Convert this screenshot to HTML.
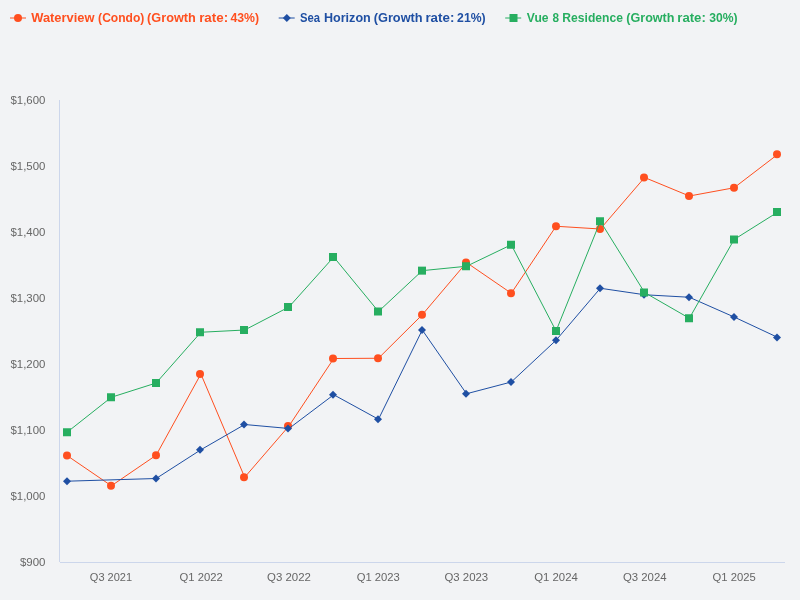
<!DOCTYPE html>
<html><head><meta charset="utf-8"><title>Chart</title>
<style>
html,body{margin:0;padding:0;background:#f2f3f5;}
body{width:800px;height:600px;overflow:hidden;font-family:"Liberation Sans",sans-serif;}
svg{display:block;will-change:transform;}
svg text{font-family:"Liberation Sans",sans-serif;}
</style></head><body>
<svg width="800" height="600" viewBox="0 0 800 600">
<rect x="0" y="0" width="800" height="600" fill="#f2f3f5"/>
<path d="M 59.5 100 L 59.5 562" stroke="#ccd6eb" stroke-width="1" fill="none"/>
<path d="M 60 562.5 L 785 562.5" stroke="#ccd6eb" stroke-width="1" fill="none"/>
<g><path d="M 67.1 455.6 L 111.37 485.8 L 156.13 455.25 L 200.89 374.0 L 244.68 477.25 L 288.95 426 L 333.71 358.5 L 378.47 358.25 L 422.26 314.75 L 466.53 262.55 L 511.29 293.25 L 556.05 226.25 L 600.32 229.0 L 644.59 177.5 L 689.35 196.0 L 734.11 187.75 L 777.9 154.25" stroke="#ff4f1f" stroke-width="1" fill="none" stroke-linejoin="round" stroke-linecap="round"/><circle cx="67" cy="455.6" r="4" fill="#ff4f1f"/><circle cx="111" cy="485.8" r="4" fill="#ff4f1f"/><circle cx="156" cy="455.25" r="4" fill="#ff4f1f"/><circle cx="200" cy="374.0" r="4" fill="#ff4f1f"/><circle cx="244" cy="477.25" r="4" fill="#ff4f1f"/><circle cx="288" cy="426" r="4" fill="#ff4f1f"/><circle cx="333" cy="358.5" r="4" fill="#ff4f1f"/><circle cx="378" cy="358.25" r="4" fill="#ff4f1f"/><circle cx="422" cy="314.75" r="4" fill="#ff4f1f"/><circle cx="466" cy="262.55" r="4" fill="#ff4f1f"/><circle cx="511" cy="293.25" r="4" fill="#ff4f1f"/><circle cx="556" cy="226.25" r="4" fill="#ff4f1f"/><circle cx="600" cy="229.0" r="4" fill="#ff4f1f"/><circle cx="644" cy="177.5" r="4" fill="#ff4f1f"/><circle cx="689" cy="196.0" r="4" fill="#ff4f1f"/><circle cx="734" cy="187.75" r="4" fill="#ff4f1f"/><circle cx="777" cy="154.25" r="4" fill="#ff4f1f"/></g>
<g><path d="M 67.1 481.2 L 156.13 478.5 L 200.89 449.75 L 244.68 424.5 L 288.95 428.5 L 333.71 394.75 L 378.47 419.25 L 422.26 330.0 L 466.53 393.75 L 511.29 382.0 L 556.05 340.25 L 600.32 288.25 L 644.59 294.75 L 689.35 297.25 L 734.11 317.0 L 777.9 337.5" stroke="#1f4fa3" stroke-width="1" fill="none" stroke-linejoin="round" stroke-linecap="round"/><path d="M 67 477.2 L 71 481.2 L 67 485.2 L 63 481.2 Z" fill="#1f4fa3"/><path d="M 156 474.5 L 160 478.5 L 156 482.5 L 152 478.5 Z" fill="#1f4fa3"/><path d="M 200 445.75 L 204 449.75 L 200 453.75 L 196 449.75 Z" fill="#1f4fa3"/><path d="M 244 420.5 L 248 424.5 L 244 428.5 L 240 424.5 Z" fill="#1f4fa3"/><path d="M 288 424.5 L 292 428.5 L 288 432.5 L 284 428.5 Z" fill="#1f4fa3"/><path d="M 333 390.75 L 337 394.75 L 333 398.75 L 329 394.75 Z" fill="#1f4fa3"/><path d="M 378 415.25 L 382 419.25 L 378 423.25 L 374 419.25 Z" fill="#1f4fa3"/><path d="M 422 326.0 L 426 330.0 L 422 334.0 L 418 330.0 Z" fill="#1f4fa3"/><path d="M 466 389.75 L 470 393.75 L 466 397.75 L 462 393.75 Z" fill="#1f4fa3"/><path d="M 511 378.0 L 515 382.0 L 511 386.0 L 507 382.0 Z" fill="#1f4fa3"/><path d="M 556 336.25 L 560 340.25 L 556 344.25 L 552 340.25 Z" fill="#1f4fa3"/><path d="M 600 284.25 L 604 288.25 L 600 292.25 L 596 288.25 Z" fill="#1f4fa3"/><path d="M 644 290.75 L 648 294.75 L 644 298.75 L 640 294.75 Z" fill="#1f4fa3"/><path d="M 689 293.25 L 693 297.25 L 689 301.25 L 685 297.25 Z" fill="#1f4fa3"/><path d="M 734 313.0 L 738 317.0 L 734 321.0 L 730 317.0 Z" fill="#1f4fa3"/><path d="M 777 333.5 L 781 337.5 L 777 341.5 L 773 337.5 Z" fill="#1f4fa3"/></g>
<g><path d="M 67.1 432.25 L 111.37 397.25 L 156.13 383.0 L 200.89 332.25 L 244.68 330.0 L 288.95 307.0 L 333.71 257.0 L 378.47 311.5 L 422.26 270.65 L 466.53 266.25 L 511.29 244.75 L 556.05 331.0 L 600.32 221.25 L 644.59 292.5 L 689.35 318.25 L 734.11 239.5 L 777.9 212.0" stroke="#27ae60" stroke-width="1" fill="none" stroke-linejoin="round" stroke-linecap="round"/><rect x="63" y="428.25" width="8" height="8" fill="#27ae60"/><rect x="107" y="393.25" width="8" height="8" fill="#27ae60"/><rect x="152" y="379.0" width="8" height="8" fill="#27ae60"/><rect x="196" y="328.25" width="8" height="8" fill="#27ae60"/><rect x="240" y="326.0" width="8" height="8" fill="#27ae60"/><rect x="284" y="303.0" width="8" height="8" fill="#27ae60"/><rect x="329" y="253.0" width="8" height="8" fill="#27ae60"/><rect x="374" y="307.5" width="8" height="8" fill="#27ae60"/><rect x="418" y="266.65" width="8" height="8" fill="#27ae60"/><rect x="462" y="262.25" width="8" height="8" fill="#27ae60"/><rect x="507" y="240.75" width="8" height="8" fill="#27ae60"/><rect x="552" y="327.0" width="8" height="8" fill="#27ae60"/><rect x="596" y="217.25" width="8" height="8" fill="#27ae60"/><rect x="640" y="288.5" width="8" height="8" fill="#27ae60"/><rect x="685" y="314.25" width="8" height="8" fill="#27ae60"/><rect x="730" y="235.5" width="8" height="8" fill="#27ae60"/><rect x="773" y="208.0" width="8" height="8" fill="#27ae60"/></g>
<g>
<path d="M 10 18 L 26 18" stroke="#ff4f1f" stroke-width="1"/><circle cx="18" cy="18" r="4" fill="#ff4f1f"/>
<path d="M 278.7 18 L 294.7 18" stroke="#1f4fa3" stroke-width="1"/><path d="M 286.8 14 L 290.8 18 L 286.8 22 L 282.8 18 Z" fill="#1f4fa3"/>
<path d="M 505.2 18 L 521.2 18" stroke="#27ae60" stroke-width="1"/><rect x="509.5" y="14" width="8" height="8" fill="#27ae60"/>
</g>
<g>
<text transform="translate(31.25 21.7) scale(1.0726 1)" font-size="12" font-weight="bold" fill="#ff4f1f">Waterview</text>
<text transform="translate(98.12 21.7) scale(1.0056 1)" font-size="12" font-weight="bold" fill="#ff4f1f">(Condo)</text>
<text transform="translate(147.09 21.7) scale(1.0588 1)" font-size="12" font-weight="bold" fill="#ff4f1f">(Growth</text>
<text transform="translate(199.16 21.7) scale(1.1150 1)" font-size="12" font-weight="bold" fill="#ff4f1f">rate:</text>
<text transform="translate(230.47 21.7) scale(1.0239 1)" font-size="12" font-weight="bold" fill="#ff4f1f">43%)</text>
<text transform="translate(299.90 21.7) scale(0.9405 1)" font-size="12" font-weight="bold" fill="#1f4fa3">Sea</text>
<text transform="translate(323.96 21.7) scale(1.0493 1)" font-size="12" font-weight="bold" fill="#1f4fa3">Horizon</text>
<text transform="translate(373.73 21.7) scale(1.0644 1)" font-size="12" font-weight="bold" fill="#1f4fa3">(Growth</text>
<text transform="translate(425.42 21.7) scale(1.1130 1)" font-size="12" font-weight="bold" fill="#1f4fa3">rate:</text>
<text transform="translate(457.12 21.7) scale(1.0185 1)" font-size="12" font-weight="bold" fill="#1f4fa3">21%)</text>
<text transform="translate(526.77 21.7) scale(1.0095 1)" font-size="12" font-weight="bold" fill="#27ae60">Vue</text>
<text transform="translate(552.38 21.7) scale(0.9787 1)" font-size="12" font-weight="bold" fill="#27ae60">8</text>
<text transform="translate(562.34 21.7) scale(1.0089 1)" font-size="12" font-weight="bold" fill="#27ae60">Residence</text>
<text transform="translate(626.24 21.7) scale(1.0499 1)" font-size="12" font-weight="bold" fill="#27ae60">(Growth</text>
<text transform="translate(677.28 21.7) scale(1.0984 1)" font-size="12" font-weight="bold" fill="#27ae60">rate:</text>
<text transform="translate(709.15 21.7) scale(1.0138 1)" font-size="12" font-weight="bold" fill="#27ae60">30%)</text>
<text transform="translate(10.47 104.2) scale(1.0385 1)" font-size="11" font-weight="normal" fill="#666666">$1,600</text>
<text transform="translate(10.47 170.2) scale(1.0385 1)" font-size="11" font-weight="normal" fill="#666666">$1,500</text>
<text transform="translate(10.47 236.2) scale(1.0385 1)" font-size="11" font-weight="normal" fill="#666666">$1,400</text>
<text transform="translate(10.47 302.2) scale(1.0385 1)" font-size="11" font-weight="normal" fill="#666666">$1,300</text>
<text transform="translate(10.47 368.2) scale(1.0385 1)" font-size="11" font-weight="normal" fill="#666666">$1,200</text>
<text transform="translate(10.47 434.2) scale(1.0385 1)" font-size="11" font-weight="normal" fill="#666666">$1,100</text>
<text transform="translate(10.47 500.2) scale(1.0385 1)" font-size="11" font-weight="normal" fill="#666666">$1,000</text>
<text transform="translate(19.97 566.2) scale(1.0429 1)" font-size="11" font-weight="normal" fill="#666666">$900</text>
<text transform="translate(89.80 581.2) scale(1.0043 1)" font-size="11" font-weight="normal" fill="#666666">Q3 2021</text>
<text transform="translate(179.49 581.2) scale(1.0261 1)" font-size="11" font-weight="normal" fill="#666666">Q1 2022</text>
<text transform="translate(266.98 581.2) scale(1.0407 1)" font-size="11" font-weight="normal" fill="#666666">Q3 2022</text>
<text transform="translate(356.69 581.2) scale(1.0230 1)" font-size="11" font-weight="normal" fill="#666666">Q1 2023</text>
<text transform="translate(444.48 581.2) scale(1.0376 1)" font-size="11" font-weight="normal" fill="#666666">Q3 2023</text>
<text transform="translate(534.18 581.2) scale(1.0344 1)" font-size="11" font-weight="normal" fill="#666666">Q1 2024</text>
<text transform="translate(622.88 581.2) scale(1.0356 1)" font-size="11" font-weight="normal" fill="#666666">Q3 2024</text>
<text transform="translate(712.59 581.2) scale(1.0230 1)" font-size="11" font-weight="normal" fill="#666666">Q1 2025</text>
</g>
</svg>
</body></html>
